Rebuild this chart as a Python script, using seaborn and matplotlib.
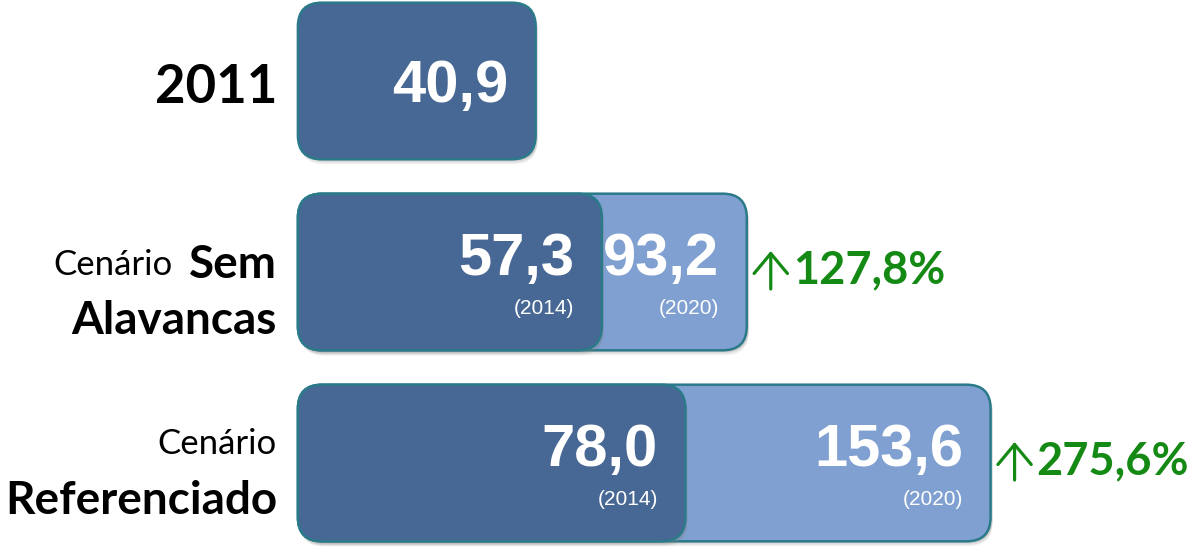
import numpy as np
import pandas as pd
import matplotlib
matplotlib.use("Agg")
import matplotlib.pyplot as plt
import seaborn as sns
from matplotlib.patches import FancyBboxPatch
from matplotlib.transforms import offset_copy

# data
categories = ["2011", "Sem Alavancas", "Referenciado"]
values_2014 = [40.9, 57.3, 78.0]          # first (dark) segment, 2011 value in row 1
values_2020 = [np.nan, 93.2, 153.6]       # second (light) segment
growth = [None, "127,8%", "275,6%"]
year_dark = [None, "(2014)", "(2014)"]
year_light = [None, "(2020)", "(2020)"]

DARK = "#476894"
LIGHT = "#7fa0d0"
EDGE = "#2b7a8a"
GREEN = "#148a14"
BASE = -18          # bars start a bit left of zero, like the original drawing
RADIUS_PX = 24

sns.set_theme(style="white")
plt.rcParams["font.family"] = ["Lato", "DejaVu Sans"]

fig = plt.figure(figsize=(11.92, 5.48), dpi=100)
ax = fig.add_axes([0, 0, 1, 1])

df = pd.DataFrame({"cat": categories, "v14": values_2014, "v20": values_2020})

# light first, dark on top
sns.barplot(data=df, x="v20", y="cat", orient="h", color=LIGHT, width=0.82,
            saturation=1, ax=ax)
n_light = len(ax.patches)
sns.barplot(data=df, x="v14", y="cat", orient="h", color=DARK, width=0.82,
            saturation=1, ax=ax)

ax.set_xlim(-91.8, 203.5)
ax.set_ylim(2.445, -0.424)
ax.axis("off")

# pixel scales so corners stay round
fig.canvas.draw()
x_pp = ax.transData.transform((1, 0))[0] - ax.transData.transform((0, 0))[0]
y_pp = abs(ax.transData.transform((0, 1))[1] - ax.transData.transform((0, 0))[1])
r = RADIUS_PX / x_pp
aspect = x_pp / y_pp

bars = list(ax.patches)
for i, p in enumerate(bars):
    w = p.get_width()
    y0, h = p.get_y(), p.get_height()
    color = p.get_facecolor()
    p.remove()
    if not np.isfinite(w) or w == 0:
        continue
    # soft shadow
    for k, a in [(5, 0.10), (3.5, 0.14), (2, 0.18)]:
        sh = FancyBboxPatch((BASE + 2 / x_pp, y0 + k / y_pp), w - BASE, h,
                            boxstyle=f"round,pad=0,rounding_size={r}",
                            mutation_aspect=aspect, fc="#808080", ec="none",
                            alpha=a, zorder=1 + (i >= n_light) * 2)
        ax.add_patch(sh)
    box = FancyBboxPatch((BASE, y0), w - BASE, h,
                         boxstyle=f"round,pad=0,rounding_size={r}",
                         mutation_aspect=aspect, fc=color, ec=EDGE, lw=1.8,
                         zorder=2 + (i >= n_light) * 2)
    ax.add_patch(box)

pad = 20  # points in from bar end
num_font = dict(family="Liberation Sans", weight="bold", color="white", zorder=6)
small_font = dict(family="Liberation Sans", color="white", zorder=6)

for i in range(len(categories)):
    v14, v20 = values_2014[i], values_2020[i]
    if i == 0:
        ax.annotate(f"{v14:.1f}".replace(".", ","), (v14, i), xytext=(-pad, -4),
                    textcoords="offset points", ha="right", va="center",
                    fontsize=43, **num_font)
        continue
    for v, yr in [(v14, year_dark[i]), (v20, year_light[i])]:
        ax.annotate(f"{v:.1f}".replace(".", ","), (v, i), xytext=(-pad, 9),
                    textcoords="offset points", ha="right", va="center",
                    fontsize=43, **num_font)
        ax.annotate(yr, (v, i), xytext=(-pad, -26),
                    textcoords="offset points", ha="right", va="center",
                    fontsize=15, **small_font)
    # thin up arrow next to the bar end
    tip = offset_copy(ax.transData, fig=fig, x=24, y=21, units="dots")
    tail = offset_copy(ax.transData, fig=fig, x=24, y=-17, units="dots")
    ax.annotate("", xy=(v20, i), xycoords=tip, xytext=(v20, i), textcoords=tail,
                arrowprops=dict(arrowstyle="->,head_length=1.2,head_width=1.0",
                                lw=2.3, color=GREEN, shrinkA=0, shrinkB=0),
                zorder=6)
    ax.annotate(growth[i], (v20, i), xytext=(33, 1), textcoords="offset points",
                ha="left", va="center", fontsize=32.5, color=GREEN,
                weight="bold", zorder=6)

# category labels left of the bars
lx = -15
ax.annotate("2011", (BASE, 0), xytext=(lx, -5), textcoords="offset points",
            ha="right", va="center", fontsize=38, weight="bold", color="black")
ax.annotate("Cenário", (BASE, 1), xytext=(lx - 75, 5), textcoords="offset points",
            ha="right", va="center", fontsize=25, color="black")
ax.annotate("Sem", (BASE, 1), xytext=(lx, 5), textcoords="offset points",
            ha="right", va="center", fontsize=33, weight="bold", color="black")
ax.annotate("Alavancas", (BASE, 1), xytext=(lx, -35), textcoords="offset points",
            ha="right", va="center", fontsize=33, weight="bold", color="black")
ax.annotate("Cenário", (BASE, 2), xytext=(lx, 14), textcoords="offset points",
            ha="right", va="center", fontsize=25, color="black")
ax.annotate("Referenciado", (BASE, 2), xytext=(lx, -27), textcoords="offset points",
            ha="right", va="center", fontsize=33, weight="bold", color="black")

fig.savefig("out.png", dpi=100, facecolor="white")
